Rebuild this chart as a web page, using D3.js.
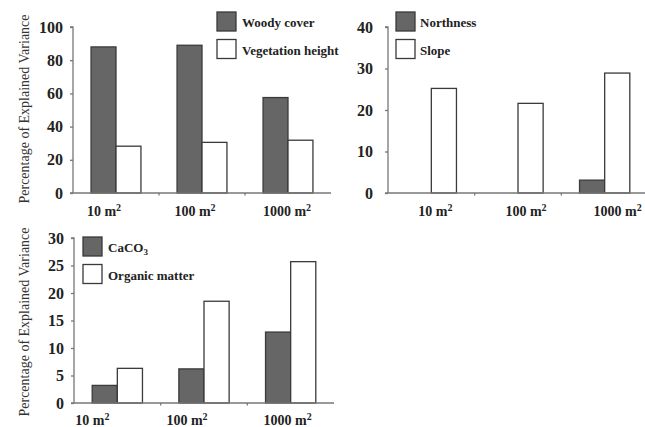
<!DOCTYPE html>
<html>
<head>
<meta charset="utf-8">
<script src="https://cdn.jsdelivr.net/npm/d3@7"></script>
<style>
  body { margin: 0; background: #fff; }
</style>
</head>
<body>
<svg></svg>
<script>
// Chart size
let width = 645,
    height = 427;

let serif = "'Liberation Serif', 'DejaVu Serif', serif";

// Shared categories (plot sizes)
let scales = ["10", "100", "1000"];

// Panel A: vegetation
let woodyCover = [88, 89, 57.5];
let vegHeight = [28.2, 30.5, 31.8];
let ticksA = [0, 20, 40, 60, 80, 100];

// Panel B: topography
let northness = [0, 0, 3.1];
let slope = [25.2, 21.6, 28.9];
let ticksB = [0, 10, 20, 30, 40];

// Panel C: soil
let caco3 = [3.2, 6.2, 12.9];
let organic = [6.3, 18.5, 25.7];
let ticksC = [0, 5, 10, 15, 20, 25, 30];

let yTitle = "Percentage of Explained Variance";

let svg = d3.select("svg")
    .attr("width", width)
    .attr("height", height)
    .style("font-family", serif);

// Panel layout
let panels = [
    {
        series: [{name: "Woody cover", values: woodyCover, dark: true},
                 {name: "Vegetation height", values: vegHeight, dark: false}],
        ticks: ticksA, max: 100,
        x: [73, 331], y: [193, 27],
        labelY: 216, labelDx: [-12, -7, -1],
        legend: [217, 12], legendText: 242,
        title: true, titleY: 109
    },
    {
        series: [{name: "Northness", values: northness, dark: true},
                 {name: "Slope", values: slope, dark: false}],
        ticks: ticksB, max: 40,
        x: [388, 648], y: [193, 27],
        labelY: 216, labelDx: [4, 8, 13],
        legend: [396, 12], legendText: 420,
        tickGap: 12
    },
    {
        series: [{name: "CaCO", sub: "3", values: caco3, dark: true},
                 {name: "Organic matter", values: organic, dark: false}],
        ticks: ticksC, max: 30,
        x: [74, 334], y: [403, 238],
        labelY: 425, labelDx: [-25, -17, -3],
        legend: [83, 237], legendText: 108,
        title: true, titleY: 322
    }
];

function drawPanel(p) {
    let g = svg.append("g");

    let x0 = d3.scaleBand()
        .domain(scales)
        .range(p.x)
        .paddingInner(0.42)
        .paddingOuter(0.21);

    let x1 = d3.scaleBand()
        .domain(d3.range(p.series.length))
        .range([0, x0.bandwidth()]);

    let y = d3.scaleLinear()
        .domain([0, p.max])
        .range(p.y);

    // Bars (zero values are not drawn)
    p.series.forEach(function(s, si) {
        let rows = s.values
            .map(function(v, i) { return {cat: scales[i], value: v}; })
            .filter(function(d) { return d.value > 0; });

        g.selectAll(null)
            .data(rows)
            .enter()
            .append("rect")
            .attr("x", function(d) { return x0(d.cat) + x1(si); })
            .attr("y", function(d) { return y(d.value); })
            .attr("width", x1.bandwidth())
            .attr("height", function(d) { return y(0) - y(d.value); })
            .style("fill", s.dark ? "#666" : "#fff")
            .style("stroke", "#3a3a3a")
            .style("stroke-width", "1.3px");
    });

    // Y axis
    let yAxis = d3.axisLeft(y)
        .tickValues(p.ticks)
        .tickSize(3)
        .tickPadding(p.tickGap || 7)
        .tickFormat(d3.format("d"));

    let ya = g.append("g")
        .attr("transform", "translate(" + p.x[0] + ",0)")
        .call(yAxis);
    ya.select(".domain").attr("d", "M-3," + y(p.max) + "H0V" + y(0));
    ya.selectAll("path, line").style("stroke", "#777").style("stroke-width", "1.3px");
    ya.selectAll("text")
        .style("font-family", serif)
        .style("font-size", "16px")
        .style("font-weight", "bold")
        .style("fill", "#222");

    // X axis line with small separators between groups
    g.append("line")
        .attr("x1", p.x[0] - 3).attr("x2", p.x[1])
        .attr("y1", y(0)).attr("y2", y(0))
        .style("stroke", "#777")
        .style("stroke-width", "1.3px");

    g.selectAll(null)
        .data(scales.slice(1))
        .enter()
        .append("line")
        .attr("x1", function(d) { return x0(d) - x0.step() * x0.paddingInner() / 2; })
        .attr("x2", function(d) { return x0(d) - x0.step() * x0.paddingInner() / 2; })
        .attr("y1", y(0))
        .attr("y2", y(0) + 2.5)
        .style("stroke", "#777")
        .style("stroke-width", "1.3px");

    // Category labels
    let labels = g.selectAll(null)
        .data(scales)
        .enter()
        .append("text")
        .attr("x", function(d, i) { return x0(d) + x0.bandwidth() / 2 + p.labelDx[i]; })
        .attr("y", p.labelY)
        .attr("text-anchor", "middle")
        .style("font-family", serif)
        .style("font-size", "14px")
        .style("font-weight", "bold")
        .style("fill", "#222");
    labels.append("tspan").text(function(d) { return d + " m"; });
    labels.append("tspan")
        .attr("dy", -5)
        .style("font-size", "10px")
        .text("2");

    // Legend
    let leg = g.append("g")
        .selectAll("g")
        .data(p.series)
        .enter()
        .append("g")
        .attr("transform", function(d, i) {
            return "translate(0," + (p.legend[1] + i * 27.5) + ")";
        });

    leg.append("rect")
        .attr("x", p.legend[0])
        .attr("width", 19)
        .attr("height", 19)
        .style("fill", function(d) { return d.dark ? "#666" : "#fff"; })
        .style("stroke", "#3a3a3a")
        .style("stroke-width", "1.3px");

    let lt = leg.append("text")
        .attr("x", p.legendText)
        .attr("y", 15)
        .style("font-family", serif)
        .style("font-size", "13px")
        .style("font-weight", "bold")
        .style("fill", "#222");
    lt.append("tspan").text(function(d) { return d.name; });
    lt.filter(function(d) { return d.sub; })
        .append("tspan")
        .attr("dy", 3)
        .style("font-size", "9px")
        .text(function(d) { return d.sub; });

    // Y title
    if (p.title) {
        g.append("text")
            .attr("transform", "translate(29," + p.titleY + ") rotate(-90)")
            .attr("text-anchor", "middle")
            .style("font-family", serif)
            .style("font-size", "14px")
            .style("fill", "#333")
            .text(yTitle);
    }
}

panels.forEach(drawPanel);
</script>
</body>
</html>
